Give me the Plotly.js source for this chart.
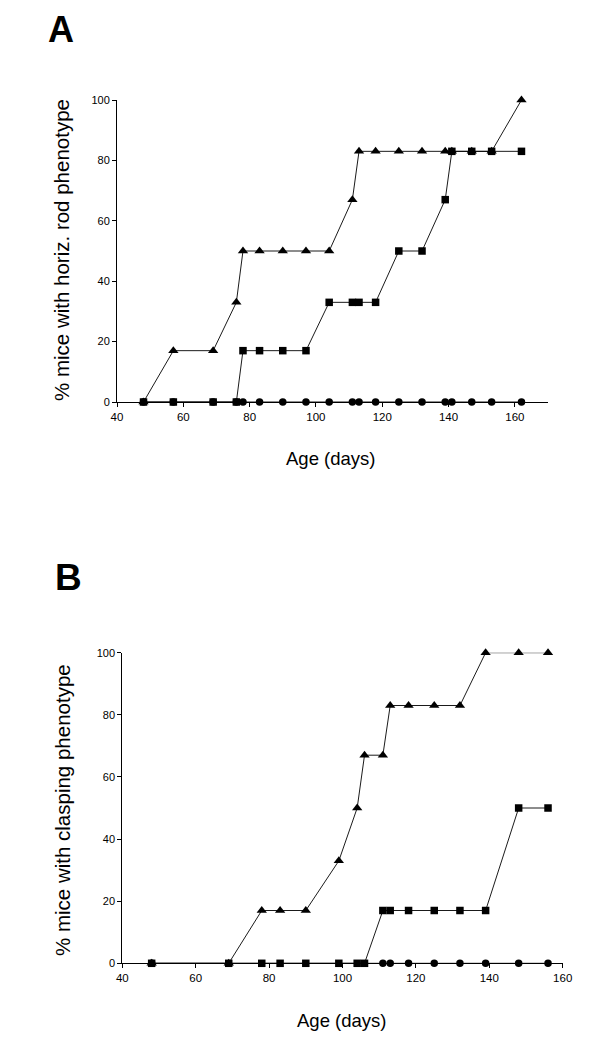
<!DOCTYPE html>
<html>
<head>
<meta charset="utf-8">
<script src="https://cdn.plot.ly/plotly-3.0.1.min.js"></script>
<style>html,body{margin:0;padding:0;background:#fff;}#chart{width:600px;height:1052px;}</style>
</head>
<body>
<div id="chart"></div>
<script>
// Panel A: horizontal rod phenotype
const ageA_tri = [48, 57, 69, 76, 78, 83, 90, 97, 104, 111, 113, 118, 125, 132, 139, 141, 147, 153, 162];
const pctA_tri = [0, 17, 17, 33, 50, 50, 50, 50, 50, 67, 83, 83, 83, 83, 83, 83, 83, 83, 100];
const ageA_sq = [48, 57, 69, 76, 78, 83, 90, 97, 104, 111, 113, 118, 125, 132, 139, 141, 147, 153, 162];
const pctA_sq = [0, 0, 0, 0, 17, 17, 17, 17, 33, 33, 33, 33, 50, 50, 67, 83, 83, 83, 83];
const ageA_ci = [48, 57, 69, 76, 78, 83, 90, 97, 104, 111, 113, 118, 125, 132, 139, 141, 147, 153, 162];
const pctA_ci = [0, 0, 0, 0, 0, 0, 0, 0, 0, 0, 0, 0, 0, 0, 0, 0, 0, 0, 0];

// Panel B: clasping phenotype
const ageB_tri = [48, 69, 78, 83, 90, 99, 104, 106, 111, 113, 118, 125, 132, 139, 148, 156];
const pctB_tri = [0, 0, 17, 17, 17, 33, 50, 67, 67, 83, 83, 83, 83, 100, 100, 100];
const ageB_sq = [48, 69, 78, 83, 90, 99, 104, 106, 111, 113, 118, 125, 132, 139, 148, 156];
const pctB_sq = [0, 0, 0, 0, 0, 0, 0, 0, 17, 17, 17, 17, 17, 17, 50, 50];
const ageB_ci = [48, 111, 113, 118, 125, 132, 139, 148, 156];
const pctB_ci = [0, 0, 0, 0, 0, 0, 0, 0, 0];

const ticksY = [0, 20, 40, 60, 80, 100];
const ticksXA = [40, 60, 80, 100, 120, 140, 160];
const ticksXB = [40, 60, 80, 100, 120, 140, 160];

const FONT = '"Liberation Sans", Arial, Helvetica, sans-serif';
const lineStyle = {color: '#000', width: 0.9};

function tr(x, y, sym, size, xa, ya) {
  return {
    x: x, y: y, type: 'scatter', mode: 'lines+markers',
    xaxis: xa, yaxis: ya, cliponaxis: false,
    line: lineStyle,
    marker: {symbol: sym, size: size, color: '#000', line: {width: 0}},
    hoverinfo: 'skip', showlegend: false
  };
}

const data = [
  tr(ageA_tri, pctA_tri, 'triangle-up', 9, 'x', 'y'),
  tr(ageA_ci, pctA_ci, 'circle', 7.5, 'x', 'y'),
  tr(ageA_sq, pctA_sq, 'square', 7.5, 'x', 'y'),
  tr(ageB_tri, pctB_tri, 'triangle-up', 9, 'x2', 'y2'),
  tr(ageB_sq, pctB_sq, 'square', 7.5, 'x2', 'y2'),
  tr(ageB_ci, pctB_ci, 'circle', 7.5, 'x2', 'y2')
];

const W = 600, H = 1052;
function axX(range, domain, ticks, anchor) {
  return {
    range: range, domain: domain, anchor: anchor,
    tickmode: 'array', tickvals: ticks, ticktext: ticks.map(String),
    showline: true, linecolor: '#000', linewidth: 1,
    ticks: 'outside', ticklen: 4, tickcolor: '#000', tickwidth: 1,
    showgrid: false, zeroline: false,
    tickfont: {family: FONT, size: 11.5, color: '#000'}
  };
}
function axY(domain, anchor) {
  return {
    range: [0, 100], domain: domain, anchor: anchor,
    tickmode: 'array', tickvals: ticksY, ticktext: ticksY.map(String),
    showline: true, linecolor: '#000', linewidth: 1,
    ticks: 'outside', ticklen: 4, tickcolor: '#000', tickwidth: 1,
    showgrid: false, zeroline: false,
    tickfont: {family: FONT, size: 11, color: '#000'}
  };
}

const layout = {
  width: W, height: H,
  margin: {l: 0, r: 0, t: 0, b: 0},
  paper_bgcolor: '#fff', plot_bgcolor: '#fff',
  showlegend: false,
  xaxis: axX([40, 170], [117 / W, 548 / W], ticksXA, 'y'),
  yaxis: axY([1 - 402 / H, 1 - 100 / H], 'x'),
  xaxis2: axX([40, 160], [122.3 / W, 562.7 / W], ticksXB, 'y2'),
  yaxis2: axY([1 - 963.3 / H, 1 - 652.7 / H], 'x2'),
  annotations: [
    {text: '<b>A</b>', xref: 'paper', yref: 'paper', x: 60.5 / W, y: 1 - 30 / H, xanchor: 'center', yanchor: 'middle', showarrow: false, font: {family: FONT, size: 36, color: '#000'}},
    {text: '<b>B</b>', xref: 'paper', yref: 'paper', x: 68.5 / W, y: 1 - 577.5 / H, xanchor: 'center', yanchor: 'middle', showarrow: false, font: {family: FONT, size: 37, color: '#000'}},
    {text: '% mice with horiz. rod phenotype', xref: 'paper', yref: 'paper', x: 62 / W, y: 1 - 250 / H, xanchor: 'center', yanchor: 'middle', textangle: -90, showarrow: false, font: {family: FONT, size: 20.5, color: '#000'}},
    {text: 'Age (days)', xref: 'paper', yref: 'paper', x: 330 / W, y: 1 - 458 / H, xanchor: 'center', yanchor: 'middle', showarrow: false, font: {family: FONT, size: 18.5, color: '#000'}},
    {text: '% mice with clasping phenotype', xref: 'paper', yref: 'paper', x: 62 / W, y: 1 - 810 / H, xanchor: 'center', yanchor: 'middle', textangle: -90, showarrow: false, font: {family: FONT, size: 20.5, color: '#000'}},
    {text: 'Age (days)', xref: 'paper', yref: 'paper', x: 342 / W, y: 1 - 1020 / H, xanchor: 'center', yanchor: 'middle', showarrow: false, font: {family: FONT, size: 18.5, color: '#000'}}
  ]
};

Plotly.newPlot('chart', data, layout, {staticPlot: true, displayModeBar: false});
</script>
</body>
</html>
